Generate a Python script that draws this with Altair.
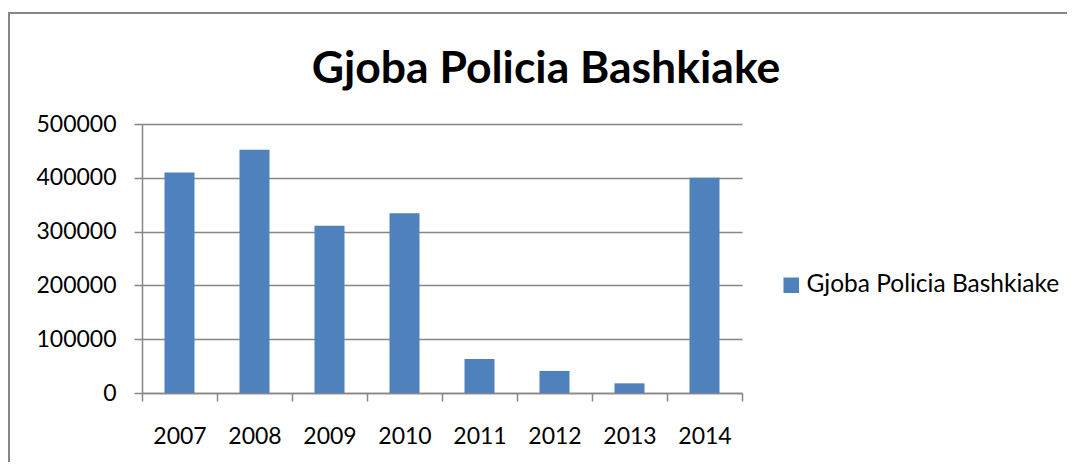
import altair as alt
import pandas as pd

years = ["2007", "2008", "2009", "2010", "2011", "2012", "2013", "2014"]
values = [410000, 452000, 311000, 334000, 63000, 41000, 18000, 400000]
series_name = "Gjoba Policia Bashkiake"
title_text = ["Gjoba Policia Bashkiake"]
y_ticks = [0, 100000, 200000, 300000, 400000, 500000]

df = pd.DataFrame({"year": years, "value": values, "series": [series_name] * len(years)})

GREY = "#868686"
BLUE = "#4F81BD"
FONT = "Lato"

border = alt.Chart(pd.DataFrame({"b": [0]})).mark_rect(
    fillOpacity=0, stroke=GREY, strokeWidth=2
).encode(
    x=alt.value(-133), y=alt.value(-111), x2=alt.value(1500), y2=alt.value(1500)
)

title = alt.Chart(pd.DataFrame({"t": title_text})).mark_text(
    font=FONT, fontSize=44.5, fontWeight="bold", color="black", align="center", baseline="alphabetic"
).encode(text="t:N", x=alt.value(404), y=alt.value(-41))

bars = alt.Chart(df).mark_bar(width=alt.RelativeBandSize(0.4)).encode(
    x=alt.X(
        "year:N", sort=years, title=None,
        scale=alt.Scale(paddingInner=0, paddingOuter=0),
        axis=alt.Axis(labelAngle=0, tickBand="extent", domainColor=GREY, domainWidth=1.5,
                      tickColor=GREY, tickWidth=1.5, tickSize=8, labelPadding=24, grid=False,
                      labelFontSize=23, labelFont=FONT, labelColor="black"),
    ),
    y=alt.Y(
        "value:Q", title=None, scale=alt.Scale(domain=[0, 500000], nice=False),
        axis=alt.Axis(values=y_ticks, format="d", domainColor=GREY, domainWidth=1.5,
                      tickColor=GREY, tickWidth=1.5, tickSize=8, labelPadding=18,
                      gridColor=GREY, gridWidth=1.5, labelFontSize=23, labelFont=FONT,
                      labelColor="black"),
    ),
    color=alt.Color(
        "series:N", scale=alt.Scale(range=[BLUE]),
        legend=alt.Legend(title=None, orient="none", legendX=637, legendY=149,
                          symbolType="square", symbolSize=240, symbolStrokeWidth=0,
                          labelFontSize=24.5, labelFont=FONT, labelColor="black",
                          labelOffset=3, labelLimit=400),
    ),
)

chart = alt.layer(border, title, bars).properties(
    width=600, height=269,
    autosize=alt.AutoSizeParams(type="none"),
    padding={"left": 134, "top": 116, "right": 325, "bottom": 69},
).configure_view(stroke=None)

chart.save("out.html", embed_options={"renderer": "svg", "actions": False})
